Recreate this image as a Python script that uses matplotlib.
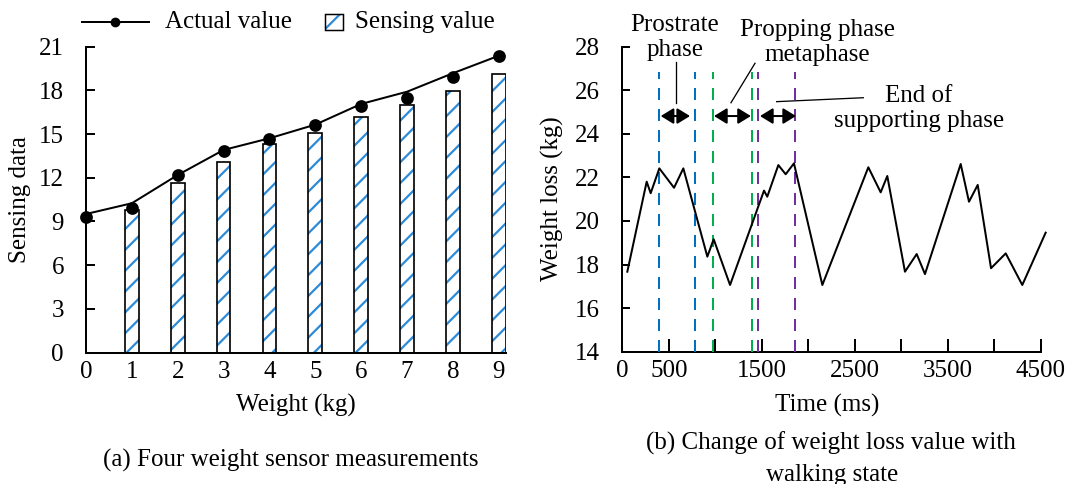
import matplotlib
matplotlib.use('Agg')
import matplotlib.pyplot as plt
from matplotlib.lines import Line2D
from matplotlib.patches import Rectangle, ArrowStyle

plt.rcParams['font.family'] = ['Liberation Serif', 'DejaVu Serif']
plt.rcParams['lines.scale_dashes'] = False
plt.rcParams['hatch.linewidth'] = 1.3

# ---------------- data: (a) ----------------
weights = [0, 1, 2, 3, 4, 5, 6, 7, 8, 9]
actual_values = [9.33, 9.95, 12.19, 13.86, 14.66, 15.63, 16.93, 17.46, 18.94, 20.38]
actual_trend = [9.51, 10.25, 12.19, 13.91, 14.71, 15.65, 17.07, 17.91, 19.18, 20.38]
sensing_weights = [1, 2, 3, 4, 5, 6, 7, 8, 9]
sensing_values = [9.77, 11.62, 13.11, 14.30, 15.05, 16.15, 17.00, 17.98, 19.10]
y_ticks_a = [0, 3, 6, 9, 12, 15, 18, 21]

# ---------------- data: (b) ----------------
time_ms = [54, 262, 305, 398, 556, 656, 914, 982, 1158, 1523, 1558, 1677, 1756,
           1845, 2150, 2644, 2777, 2848, 3038, 3164, 3253, 3637, 3726, 3820,
           3963, 4121, 4299, 4550]
weight_loss = [17.67, 21.80, 21.27, 22.41, 21.52, 22.41, 18.36, 19.16, 17.06,
               21.39, 21.11, 22.56, 22.14, 22.64, 17.06, 22.46, 21.31, 22.06,
               17.67, 18.48, 17.56, 22.61, 20.88, 21.65, 17.83, 18.51, 17.06, 19.46]
x_ticks_b = [0, 500, 1000, 1500, 2000, 2500, 3000, 3500, 4000, 4500]
x_ticklabels_b = ['0', '500', '', '1500', '', '2500', '', '3500', '', '4500']
y_ticks_b = [14, 16, 18, 20, 22, 24, 26, 28]
phase_names = ['Prostrate\nphase', 'Propping phase\nmetaphase', 'End of\nsupporting phase']
phase_bounds = [[394, 778], [978, 1391], [1462, 1856]]
phase_arrows = [[413, 728], [986, 1382], [1480, 1867]]
phase_colors = ['#0070C0', '#00B050', '#7030A0']
phase_line_top = 26.85
arrow_y = 24.81
label_pos = [[566, 28.40], [2095, 28.17], [3188, 25.16]]
leader_from = [[577, 27.30], [1426, 27.23], [2590, 25.65]]
leader_to = [[577, 25.40], [1168, 25.42], [1659, 25.47]]

W, H = 1066, 484
DPI = 125
PT = 72.0 / DPI  # points per pixel
FS = 25 * PT
BLUE_HATCH = '#2E8BD8'

fig = plt.figure(figsize=(W / DPI, H / DPI), dpi=DPI)

# ================= (a) =================
ax1 = fig.add_axes([86 / W, 1 - 352.5 / H, 9.16 * 45.87 / W, 305.8 / H])
ax1.bar(sensing_weights, sensing_values, width=0.30, color='white',
        edgecolor=BLUE_HATCH, hatch='//', linewidth=0, zorder=2)
ax1.bar(sensing_weights, sensing_values, width=0.30, fill=False,
        edgecolor='black', linewidth=1.2 * PT * 1.4, zorder=3)
ax1.plot(weights, actual_trend, color='black', lw=2 * PT, zorder=4)
ax1.plot(weights, actual_values, 'o', color='black', ms=11 * PT, zorder=5,
         clip_on=False)
ax1.set_xlim(0, 9.16)
ax1.set_ylim(0, 21)
ax1.set_xticks(weights)
ax1.set_yticks(y_ticks_a)
for s in ['top', 'right']:
    ax1.spines[s].set_visible(False)
for s in ['left', 'bottom']:
    ax1.spines[s].set_linewidth(2 * PT)
ax1.tick_params(axis='y', direction='in', length=9 * PT, width=2 * PT,
                pad=22 * PT, labelsize=FS)
ax1.tick_params(axis='x', length=0, pad=8 * PT, labelsize=FS)
ax1.set_xlabel('Weight (kg)', fontsize=FS)
ax1.xaxis.set_label_coords(0.5, (352.5 - 405) / 305.8)
ax1.xaxis.label.set_va('center')
ax1.set_ylabel('Sensing data', fontsize=FS)
ax1.yaxis.set_label_coords((19.6 - 86) / (9.16 * 45.87), 0.5)
ax1.yaxis.label.set_va('center')

# legend (a), drawn in figure pixel positions
ly = 1 - 22 / H
fig.add_artist(Line2D([82 / W, 115 / W, 149 / W], [ly, ly, ly], color='black',
                      lw=2 * PT, marker='o', ms=8 * PT, markevery=[1]))
fig.text(165 / W, ly, 'Actual value', fontsize=FS, va='center', ha='left')
rect_bg = Rectangle((325 / W, 1 - 30 / H), 18 / W, 16 / H, facecolor='white',
                    edgecolor=BLUE_HATCH, hatch='//', linewidth=0,
                    transform=fig.transFigure)
rect_fg = Rectangle((325 / W, 1 - 30 / H), 18 / W, 16 / H, fill=False,
                    edgecolor='black', linewidth=1.5 * PT,
                    transform=fig.transFigure)
fig.add_artist(rect_bg)
fig.add_artist(rect_fg)
fig.text(355 / W, ly, 'Sensing value', fontsize=FS, va='center', ha='left')

fig.text(291 / W, 1 - 460 / H, '(a) Four weight sensor measurements',
         fontsize=FS, ha='center', va='center')

# ================= (b) =================
ax2 = fig.add_axes([622.3 / W, 1 - 351.7 / H, 418.7 / W, 305.2 / H])
ax2.plot(time_ms, weight_loss, color='black', lw=2 * PT, zorder=4,
         clip_on=False)
for (x0, x1), c in zip(phase_bounds, phase_colors):
    ax2.vlines([x0, x1], 14, phase_line_top, colors=c, lw=2 * PT,
               linestyles=(0, (12 * PT, 9 * PT)), zorder=3)
astyle = ArrowStyle('<|-|>', head_length=0.62, head_width=0.38)
for x0, x1 in phase_arrows:
    ax2.annotate('', xy=(x1, arrow_y), xytext=(x0, arrow_y),
                 arrowprops=dict(arrowstyle=astyle, color='black', lw=2 * PT,
                                 shrinkA=0, shrinkB=0, mutation_scale=10),
                 zorder=5)
for name, (tx, ty) in zip(phase_names, label_pos):
    ax2.text(tx, ty, name, fontsize=FS, ha='center', va='center',
             multialignment='center', linespacing=1.2, clip_on=False)
for (xa, ya), (xb, yb) in zip(leader_from, leader_to):
    ax2.plot([xa, xb], [ya, yb], color='black', lw=1.3 * PT, clip_on=False)

ax2.set_xlim(0, 4500)
ax2.set_ylim(14, 28)
ax2.set_xticks(x_ticks_b)
ax2.set_xticklabels(x_ticklabels_b)
ax2.set_yticks(y_ticks_b)
for s in ['top', 'right']:
    ax2.spines[s].set_visible(False)
for s in ['left', 'bottom']:
    ax2.spines[s].set_linewidth(2 * PT)
ax2.tick_params(axis='y', direction='in', length=7.7 * PT, width=2 * PT,
                pad=22 * PT, labelsize=FS)
ax2.tick_params(axis='x', direction='in', length=12.7 * PT, width=2 * PT,
                pad=8 * PT, labelsize=FS)
ax2.set_xlabel('Time (ms)', fontsize=FS)
ax2.xaxis.set_label_coords(0.49, (351.7 - 405) / 305.2)
ax2.xaxis.label.set_va('center')
ax2.set_ylabel('Weight loss (kg)', fontsize=FS)
ax2.yaxis.set_label_coords((552.3 - 622.3) / 418.7, 0.5)
ax2.yaxis.label.set_va('center')

fig.text(831 / W, 1 - 443 / H, '(b) Change of weight loss value with',
         fontsize=FS, ha='center', va='center')
fig.text(832 / W, 1 - 475 / H, 'walking state', fontsize=FS, ha='center',
         va='center')

fig.savefig('out.png', dpi=DPI)
